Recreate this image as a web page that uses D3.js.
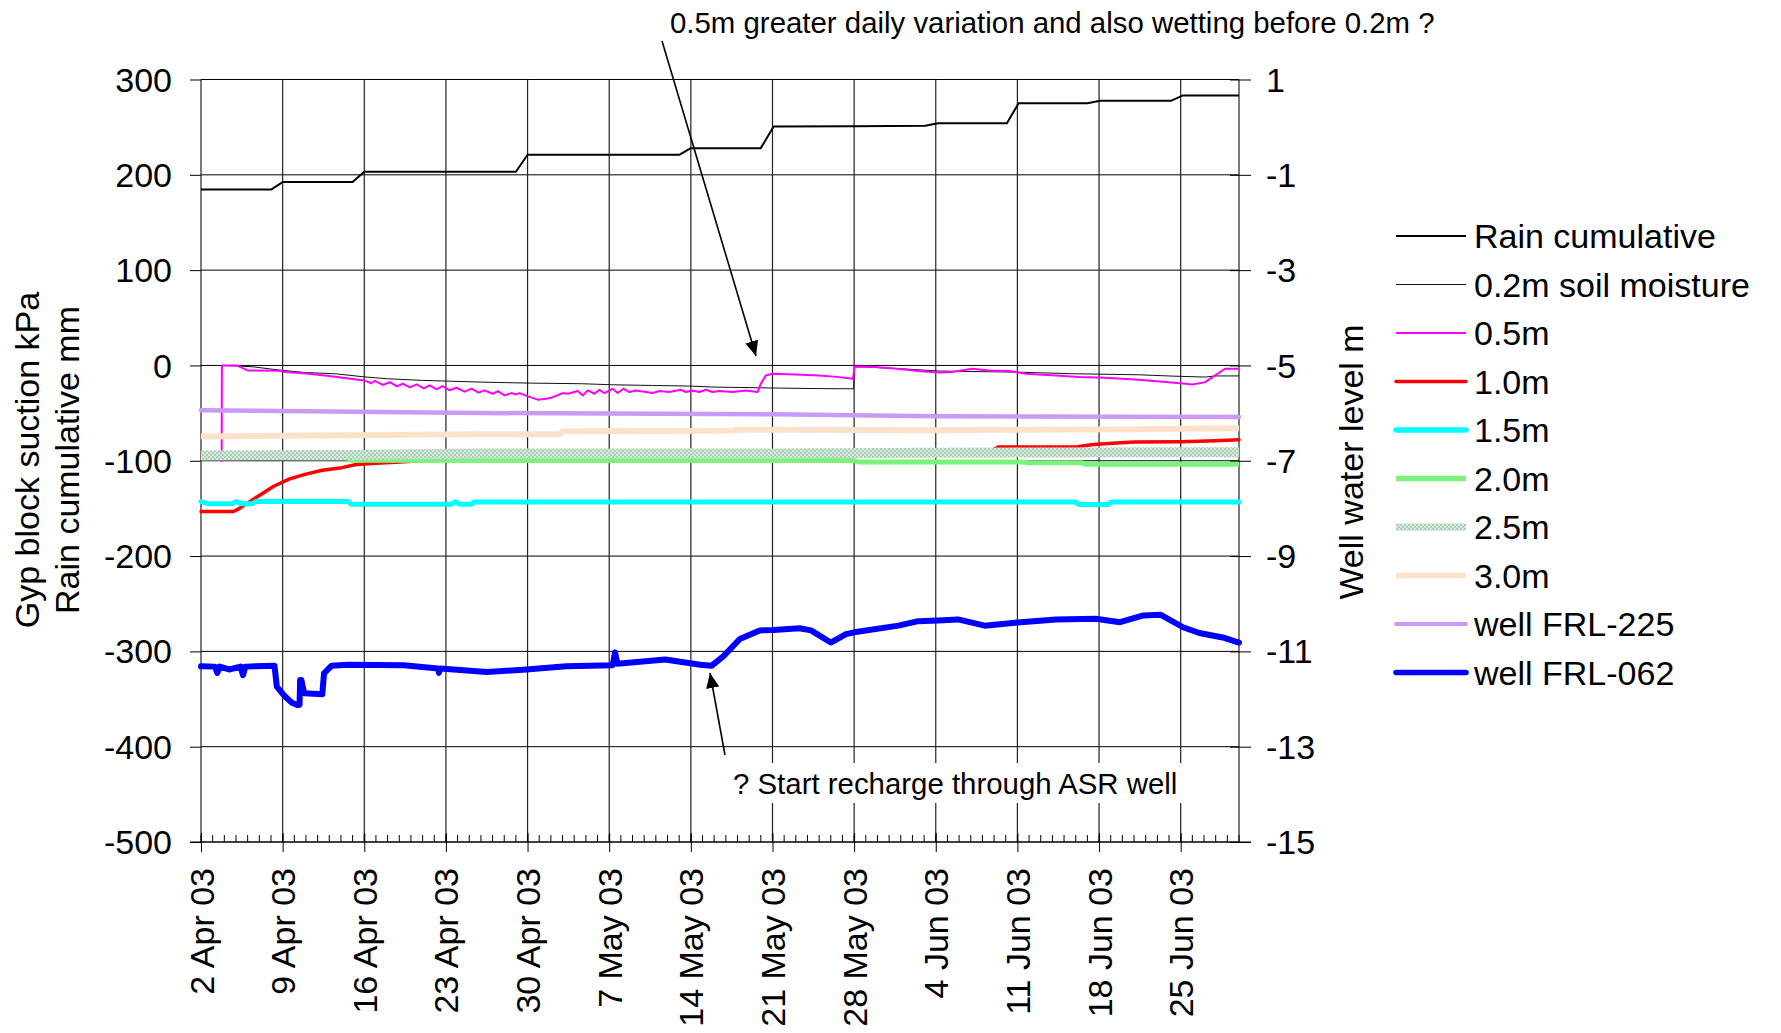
<!DOCTYPE html>
<html><head><meta charset="utf-8">
<script src="https://cdn.jsdelivr.net/npm/d3@7"></script>
<style>
html,body{margin:0;padding:0;background:#fff;}
svg{display:block;font-family:"Liberation Sans",Arial,sans-serif;}
</style></head>
<body><svg id="chart" width="1781" height="1033"></svg>
<script>
// ---------- DATA (day offset from 2 Apr 2003, value) ----------
const startDate = [2003, 3, 2];
const dayRange = [0, 89];
const majorTickDays = [0, 7, 14, 21, 28, 35, 42, 49, 56, 63, 70, 77, 84];
const leftTicks = [300, 200, 100, 0, -100, -200, -300, -400, -500];
const rightTicks = [1, -1, -3, -5, -7, -9, -11, -13, -15];

const seriesNames = ["Rain cumulative", "0.2m soil moisture", "0.5m", "1.0m", "1.5m", "2.0m", "2.5m", "3.0m", "well FRL-225", "well FRL-062"];

// Left axis (kPa / mm)
const rainCumulative = [[0,184.5],[6,184.5],[7,192.4],[13,192.4],[14,203.2],[27,203.2],[28,221],[41,221],[42,228],[48,228],[49.1,250.8],[56,251],[62.1,251.5],[63.2,254],[69.1,254],[70.1,275],[76,275],[77.1,277.8],[83.2,277.8],[84.2,283.3],[89,283.3]];
const soil02 = [[1.8,0],[3.0,-0.5],[4.5,-1.5],[6.8,-5],[9,-7.5],[11.5,-8.7],[14,-12],[16,-14],[19,-15.7],[21,-16.4],[24,-17.5],[28,-18.5],[32.7,-19.2],[35.3,-20.3],[38.7,-21],[42.1,-21.7],[43.9,-22.7],[47.7,-23.4],[49.6,-23.8],[53,-24.3],[55.95,-24.5],[56.05,-1],[60,-3.5],[63.3,-5.9],[69.8,-7],[74.7,-8.7],[80.4,-9.8],[83.3,-11.2],[86.1,-12.2],[87,-11],[89,-11]];
const soil05 = [[1.77,-101],[1.79,0],[3.05,0],[4.0,-5.2],[6.8,-5.5],[7.2,-7],[9,-8.5],[11,-11],[12.8,-14],[14.0,-15.7],[14.6,-18.7],[14.9,-16.2],[15.6,-20.5],[16.2,-17.5],[16.8,-22],[17.3,-19.2],[17.9,-23],[18.5,-19.9],[19.1,-24],[19.6,-20.9],[20.2,-25],[20.7,-21.7],[21.3,-26],[21.9,-23.4],[22.6,-27.5],[23.2,-24.4],[23.8,-28.5],[24.3,-26.2],[25.03,-29.7],[25.46,-26.9],[26.03,-31.4],[26.6,-29],[27.03,-30.4],[27.31,-29],[28.02,-32.5],[28.88,-35.9],[29.6,-34.9],[30.02,-33.9],[31.02,-29],[31.45,-29.7],[32.3,-26.9],[32.74,-31.4],[33.16,-26.2],[33.73,-29.7],[34.16,-25.5],[34.59,-29],[35.3,-24.4],[35.73,-29],[36.22,-24.4],[36.73,-27.9],[37.3,-26.2],[38.16,-27.9],[38.73,-29],[39.3,-26.9],[40.15,-27.9],[41.15,-25.5],[41.58,-27.9],[42.15,-26.2],[42.72,-27.9],[43.3,-25.5],[43.86,-27.9],[44.43,-26.9],[45.58,-27.9],[46.72,-26.2],[47.72,-27.9],[48.0,-19.2],[48.43,-10.5],[49.0,-8.7],[51,-9.5],[53,-10.5],[54.5,-12],[55.9,-14],[56.05,-1],[57.5,-1.5],[59.7,-3.5],[61.7,-6],[63.3,-7.5],[64.4,-7],[66.1,-3.5],[67.55,-5.2],[69.3,-5.9],[70.7,-8.7],[73.3,-10.5],[75.3,-12.2],[77.5,-12.9],[80.4,-15],[82.7,-17.5],[84.4,-19.2],[85,-19.9],[86.1,-17.5],[86.96,-10.5],[87.8,-3.5],[89,-3.5]];
const soil10 = [[0,-153.3],[2.8,-153.3],[3.3,-150],[4.8,-138],[6.2,-127],[7.6,-119],[9.0,-114],[10.4,-110],[11.9,-107.7],[13.3,-104],[15,-102.6],[16.7,-101.7],[20,-99],[30,-95],[40,-92],[42,-89.6],[48,-89.6],[49,-92],[60,-92],[67.5,-91],[68.4,-85.5],[75,-85.5],[76.5,-83],[78.5,-81.5],[80,-80.3],[84,-80],[87,-79],[89,-78]];
const soil15 = [[0,-142.8],[0.6,-145],[2.7,-145],[3.0,-142.8],[3.4,-145],[4.4,-145],[4.7,-142.8],[12.6,-142.8],[12.9,-145.6],[21.5,-145.6],[21.8,-143],[22.2,-145.6],[23.2,-145.6],[23.4,-143.4],[75,-143.4],[75.3,-146],[77.8,-146],[78,-143.4],[89,-143.4]];
const soil20 = [[0,-96.5],[12.6,-97],[12.9,-99.6],[49,-99.7],[56,-99.8],[56.3,-101.2],[63,-101.3],[70.5,-101.4],[71,-102],[75.5,-102],[75.8,-103.6],[89,-103.6]];
const soil25 = [[0,-94.5],[12,-94],[24,-92.5],[49,-92.5],[63,-91.5],[89,-91]];
const soil30 = [[0,-74.5],[12,-73.2],[24,-72.3],[30.8,-72],[31,-69],[45.5,-68.6],[46,-67.5],[63,-68],[80,-67],[89,-66]];
// Right axis (well water level m)
const wellFRL225 = [[0,-5.94],[24,-5.998],[49,-6.026],[63,-6.068],[89,-6.08]];
const wellFRL062 = [[0,-11.314],[1.2,-11.32],[1.4,-11.45],[1.6,-11.32],[2.4,-11.38],[3.4,-11.32],[3.6,-11.5],[3.8,-11.32],[6.3,-11.30],[6.5,-11.74],[7.1,-11.92],[7.8,-12.08],[8.3,-12.13],[8.45,-12.12],[8.5,-11.60],[8.6,-11.60],[8.85,-11.88],[10.4,-11.90],[10.55,-11.46],[11.2,-11.30],[12.6,-11.28],[17.4,-11.292],[20.3,-11.36],[20.4,-11.45],[20.5,-11.36],[24.5,-11.434],[27.9,-11.38],[31.3,-11.314],[35.3,-11.292],[35.5,-11.02],[35.7,-11.26],[39.8,-11.17],[42.8,-11.28],[43.8,-11.30],[44.8,-11.10],[46.2,-10.74],[47.9,-10.56],[49.1,-10.55],[51.3,-10.516],[52.3,-10.56],[54.0,-10.814],[55.3,-10.638],[56,-10.60],[59.8,-10.46],[61.5,-10.366],[63.2,-10.352],[64.9,-10.33],[67.2,-10.46],[70,-10.396],[73.3,-10.33],[76.7,-10.316],[78.8,-10.388],[80.8,-10.246],[82.3,-10.232],[84.2,-10.494],[85.6,-10.614],[87.6,-10.708],[89,-10.814]];

const noteTop = "0.5m greater daily variation and also wetting before 0.2m ?";
const noteBottom = "? Start recharge through ASR well";

// ---------- DRAWING ----------
const svg = d3.select("#chart");
const START = Date.UTC(startDate[0], startDate[1], startDate[2]);
const toDate = d => new Date(START + d * 864e5);
const L = 201, R = 1239, T = 79.5, B = 842;
const x = d3.scaleUtc().domain(dayRange.map(toDate)).range([L, R]);
const yL = d3.scaleLinear().domain([-500, 300]).range([B, T]);
const yR = d3.scaleLinear().domain([-15, 1]).range([B, T]);
const FS = 34;
const numFmt = d => String(d);

const defs = svg.append("defs");
const pat = defs.append("pattern").attr("id", "p25").attr("width", 4).attr("height", 4).attr("patternUnits", "userSpaceOnUse");
pat.append("rect").attr("width", 4).attr("height", 4).attr("fill", "#d8ebdf");
pat.append("rect").attr("width", 2).attr("height", 2).attr("fill", "#abcdb6");
pat.append("rect").attr("x", 2).attr("y", 2).attr("width", 2).attr("height", 2).attr("fill", "#abcdb6");
const mk = defs.append("marker").attr("id", "arr").attr("viewBox", "0 0 10 10").attr("refX", 10).attr("refY", 5)
  .attr("markerWidth", 15).attr("markerHeight", 15).attr("markerUnits", "userSpaceOnUse").attr("orient", "auto");
mk.append("path").attr("d", "M0,0.6 L10,5 L0,9.4 Z").attr("fill", "#000");

// grid
const grid = svg.append("g");
grid.selectAll("line.h").data(leftTicks).join("line")
  .attr("x1", L).attr("x2", R).attr("y1", d => yL(d)).attr("y2", d => yL(d))
  .attr("stroke", "#000").attr("stroke-width", 1);
grid.selectAll("line.v").data(majorTickDays).join("line")
  .attr("x1", d => x(toDate(d))).attr("x2", d => x(toDate(d))).attr("y1", T).attr("y2", B)
  .attr("stroke", "#222").attr("stroke-width", 1.2);
grid.append("line").attr("x1", R).attr("x2", R).attr("y1", T).attr("y2", B).attr("stroke", "#222").attr("stroke-width", 1.2);

// axes
const axL = svg.append("g").attr("transform", `translate(${L},0)`)
  .call(d3.axisLeft(yL).tickValues(leftTicks).tickSize(11).tickPadding(18).tickFormat(numFmt));
const axR = svg.append("g").attr("transform", `translate(${R},0)`)
  .call(d3.axisRight(yR).tickValues(rightTicks).tickSize(12).tickPadding(15).tickFormat(numFmt));
const axB = svg.append("g").attr("transform", `translate(0,${B})`)
  .call(d3.axisBottom(x).tickValues(majorTickDays.map(toDate)).tickSize(10).tickFormat(d3.utcFormat("%-d %b %y")));
[axL, axR, axB].forEach(a => {
  a.select(".domain").remove();
  a.selectAll("text").attr("font-size", FS).attr("fill", "#000").attr("font-family", '"Liberation Sans",Arial,sans-serif');
  a.selectAll("line").attr("stroke", "#000");
});
axL.selectAll("text").attr("dy", "0.34em");
axR.selectAll("text").attr("dy", "0.34em");
axR.selectAll(".tick").append("line").attr("x1", -9).attr("x2", 0).attr("stroke", "#000");
axB.selectAll(".tick").append("line").attr("y1", -9).attr("y2", 0).attr("stroke", "#000");
axB.selectAll("text").attr("transform", "rotate(-90)").attr("text-anchor", "end")
  .attr("x", -26).attr("y", 12).attr("dy", 0);
// minor daily ticks
svg.append("g").selectAll("line").data(d3.range(dayRange[0], dayRange[1] + 1)).join("line")
  .attr("x1", d => x(toDate(d))).attr("x2", d => x(toDate(d))).attr("y1", B - 7).attr("y2", B)
  .attr("stroke", "#000").attr("stroke-width", 1);
svg.append("line").attr("x1", L - 11).attr("x2", R + 12).attr("y1", B).attr("y2", B).attr("stroke", "#000");

// axis titles
svg.append("text").attr("transform", `translate(39,460) rotate(-90)`).attr("text-anchor", "middle")
  .attr("font-size", FS).text("Gyp block suction kPa");
svg.append("text").attr("transform", `translate(79,460) rotate(-90)`).attr("text-anchor", "middle")
  .attr("font-size", FS).text("Rain cumulative mm");
svg.append("text").attr("transform", `translate(1363,462) rotate(-90)`).attr("text-anchor", "middle")
  .attr("font-size", FS).text("Well water level m");

// series
const lineL = d3.line().x(d => x(toDate(d[0]))).y(d => yL(d[1]));
const lineR = d3.line().x(d => x(toDate(d[0]))).y(d => yR(d[1]));
const styles = [
  {data: rainCumulative, line: lineL, color: "#000", w: 2, cap: "butt", lw: 2},
  {data: soil02, line: lineL, color: "#111", w: 1, cap: "butt", lw: 1},
  {data: soil05, line: lineL, color: "#ff00ff", w: 2, cap: "butt", lw: 2},
  {data: soil10, line: lineL, color: "#ff0000", w: 3.5, cap: "round", lw: 3.5},
  {data: soil15, line: lineL, color: "#00ffff", w: 5, cap: "round", lw: 5.5},
  {data: soil20, line: lineL, color: "#7cf27c", w: 5, cap: "butt", lw: 5.5},
  {data: soil25, line: lineL, color: "url(#p25)", w: 10, cap: "butt", lw: 7},
  {data: soil30, line: lineL, color: "#fde2cb", w: 6, cap: "butt", lw: 5.5},
  {data: wellFRL225, line: lineR, color: "#c99bf7", w: 4.5, cap: "round", lw: 4},
  {data: wellFRL062, line: lineR, color: "#0000ff", w: 6, cap: "round", lw: 5.5}
];
const sg = svg.append("g");
styles.forEach(s => {
  sg.append("path").attr("d", s.line(s.data)).attr("fill", "none").attr("stroke", s.color)
    .attr("stroke-width", s.w).attr("stroke-linejoin", "round").attr("stroke-linecap", s.cap === "round" ? "round" : "butt");
});

// annotations
svg.append("text").attr("x", 670).attr("y", 32.5).attr("font-size", 29.4).text(noteTop);
svg.append("line").attr("x1", 662).attr("y1", 41).attr("x2", 756).attr("y2", 356)
  .attr("stroke", "#000").attr("stroke-width", 1.6).attr("marker-end", "url(#arr)");
svg.append("rect").attr("x", 725).attr("y", 763).attr("width", 465).attr("height", 40).attr("fill", "#fff");
svg.append("text").attr("x", 733).attr("y", 794).attr("font-size", 29.4).text(noteBottom);
svg.append("line").attr("x1", 725).attr("y1", 755).attr("x2", 710).attr("y2", 673)
  .attr("stroke", "#000").attr("stroke-width", 1.6).attr("marker-end", "url(#arr)");

// legend
const lg = svg.append("g");
styles.forEach((s, i) => {
  const yy = 236 + i * 48.5;
  lg.append("line").attr("x1", 1396).attr("x2", 1466).attr("y1", yy).attr("y2", yy)
    .attr("stroke", s.color).attr("stroke-width", s.lw).attr("stroke-linecap", s.cap);
  lg.append("text").attr("x", 1474).attr("y", yy).attr("dy", "0.36em").attr("font-size", FS).text(seriesNames[i]);
});
</script></body></html>
